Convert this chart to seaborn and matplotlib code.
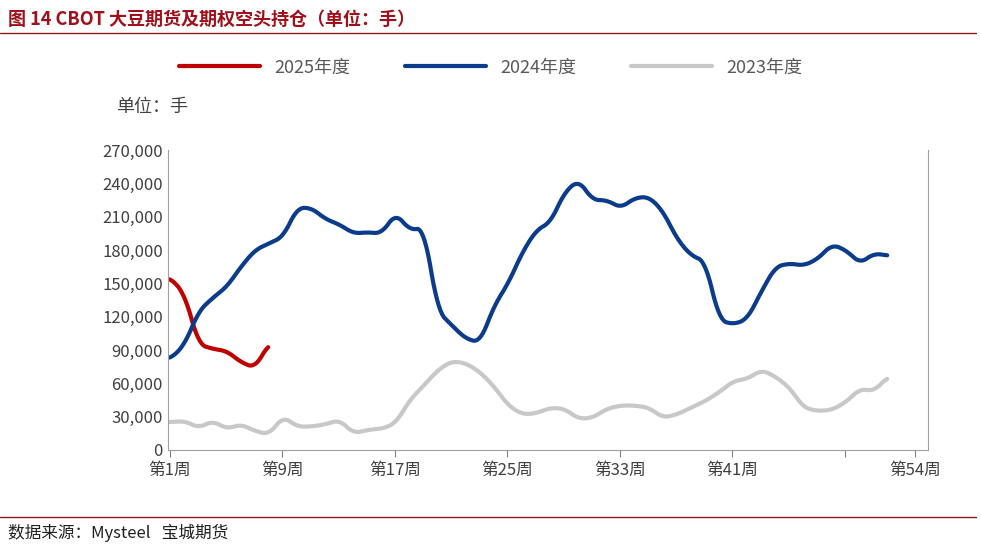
import matplotlib
matplotlib.use("Agg")
import matplotlib.pyplot as plt
import seaborn as sns
import pandas as pd
import numpy as np

sns.set_style("white")
plt.rcParams['font.family'] = ['Noto Sans CJK SC', 'DejaVu Sans']

weeks_2025 = [1, 2, 3, 4, 5, 6, 7, 8]
vals_2025 = [155000, 140000, 95000, 91000, 89000, 79000, 74000, 96000]
weeks_2024 = list(range(1, 53))
vals_2024 = [82000, 95000, 125000, 137000, 147000, 165000, 180000, 186000, 192000, 218000,
             218000, 208000, 203000, 195000, 196000, 195000, 213000, 198000, 200000, 125000,
             112000, 100000, 97000, 130000, 150000, 178000, 198000, 205000, 232000, 243000,
             225000, 225000, 218000, 227000, 228000, 215000, 190000, 175000, 170000, 117000,
             113000, 118000, 143000, 165000, 168000, 166000, 172000, 185000, 180000, 168000,
             177000, 175000]
weeks_2023 = list(range(1, 53))
vals_2023 = [25000, 26000, 20000, 26000, 19000, 23000, 17000, 14000, 30000, 21000,
             21000, 23000, 27000, 15000, 18000, 19000, 24000, 45000, 58000, 72000,
             80000, 78000, 70000, 57000, 40000, 32000, 33000, 38000, 37000, 28000,
             29000, 37000, 40000, 40000, 38000, 29000, 32000, 38000, 44000, 52000,
             62000, 64000, 72000, 66000, 56000, 38000, 35000, 36000, 43000, 55000,
             53000, 66000]
tick_weeks = [1, 9, 17, 25, 33, 41, 49, 54]
tick_labels = ["第1周", "第9周", "第17周", "第25周", "第33周", "第41周", "", "第54周"]

def smooth(x, y, n=8):
    x = np.asarray(x, float); y = np.asarray(y, float)
    xs = np.linspace(x[0], x[-1], (len(x) - 1) * n + 1)
    ys = np.interp(xs, x, y)
    k = n
    pad = np.pad(ys, k, mode='edge')
    ys = np.convolve(pad, np.ones(k) / k, mode='same')[k:-k]
    return xs, ys

frames = []
for lab, w, v in [("2025年度", weeks_2025, vals_2025), ("2024年度", weeks_2024, vals_2024),
                  ("2023年度", weeks_2023, vals_2023)]:
    xs, ys = smooth(w, v)
    frames.append(pd.DataFrame({"week": xs, "value": ys, "series": lab}))
df = pd.concat(frames)

fig = plt.figure(figsize=(9.81, 5.48), dpi=100)
ax = fig.add_axes([0.171, 0.179, 0.775, 0.547])
palette = {"2025年度": "#C00000", "2024年度": "#0B3C8C", "2023年度": "#C8C8C8"}
sns.lineplot(data=df, x="week", y="value", hue="series", palette=palette, linewidth=3,
             ax=ax, sort=False, estimator=None, legend=False)
ax.set_xlim(0.86, 54.9)
ax.set_ylim(0, 270000)
ax.set_yticks(range(0, 270001, 30000))
ax.set_yticklabels([f"{v:,}" for v in range(0, 270001, 30000)], fontsize=12, color="#404040")
ax.set_xticks(tick_weeks)
ax.set_xticklabels(tick_labels, fontsize=12, color="#404040")
ax.tick_params(axis='x', direction='out', length=5, color="#808080", bottom=True)
ax.tick_params(axis='y', length=0)
ax.set_xlabel(""); ax.set_ylabel("")
ax.spines["top"].set_visible(False)
for sp in ["left", "right", "bottom"]:
    ax.spines[sp].set_color("#A0A0A0")

from matplotlib.lines import Line2D
handles = [Line2D([], [], color=palette[k], lw=3) for k in palette]
fig.legend(handles, list(palette), loc="center", bbox_to_anchor=(0.5, 0.877), ncol=3,
           frameon=False, fontsize=13, handlelength=4.5, columnspacing=3,
           labelcolor="#595959")
fig.text(0.118, 0.795, "单位：手", fontsize=13, color="#404040")
fig.text(0.008, 0.965, "图 14 CBOT 大豆期货及期权空头持仓（单位：手）", fontsize=13,
         color="#A0101A", fontweight="bold", va="center")
fig.add_artist(Line2D([0.0, 0.995], [0.939, 0.939], color="#8B1A1A", lw=1))
fig.add_artist(Line2D([0.0, 0.995], [0.057, 0.057], color="#8B1A1A", lw=1))
fig.text(0.008, 0.028, "数据来源：Mysteel   宝城期货", fontsize=12, color="#202020", va="center")
fig.savefig("out.png", dpi=100)
